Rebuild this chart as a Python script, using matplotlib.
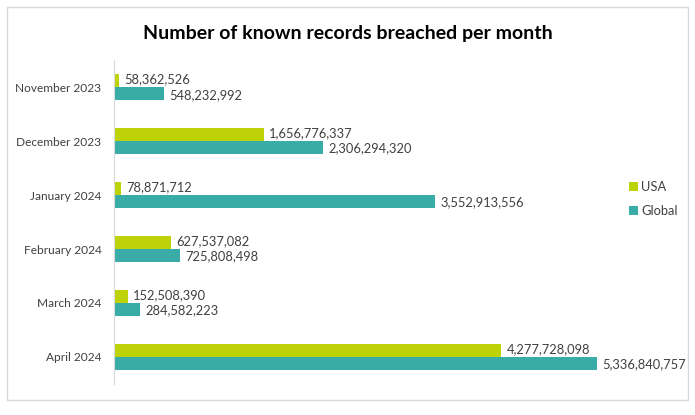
import matplotlib.pyplot as plt
from matplotlib.patches import Rectangle
import numpy as np

plt.rcParams['font.family'] = ['Lato', 'DejaVu Sans']

# data
months = ["November 2023", "December 2023", "January 2024",
          "February 2024", "March 2024", "April 2024"]
usa = [58362526, 1656776337, 78871712, 627537082, 152508390, 4277728098]
global_vals = [548232992, 2306294320, 3552913556, 725808498, 284582223, 5336840757]

usa_color = "#bdd308"
global_color = "#3aaca7"
text_color = "#404040"

fig = plt.figure(figsize=(6.95, 4.15), dpi=100)
ax = fig.add_axes([0.164, 0.075, 0.781, 0.78])

y = np.arange(len(months))
h = 0.24

b1 = ax.barh(y - h / 2, usa, height=h, color=usa_color, label="USA")
b2 = ax.barh(y + h / 2, global_vals, height=h, color=global_color, label="Global")

for bar, v in zip(b1, usa):
    ax.text(bar.get_width() + 6e7, bar.get_y() + bar.get_height() / 2 - 0.02,
            f"{v:,}", va="center", ha="left", fontsize=9.3, color=text_color)
for bar, v in zip(b2, global_vals):
    ax.text(bar.get_width() + 6e7, bar.get_y() + bar.get_height() / 2 + 0.02,
            f"{v:,}", va="center", ha="left", fontsize=9.3, color=text_color)

ax.set_yticks(y)
ax.set_yticklabels(months, fontsize=8.6, color=text_color)
ax.set_ylim(len(months) - 0.5, -0.5)
ax.set_xlim(0, 6e9)
ax.set_xticks([])
ax.tick_params(axis="y", length=0, pad=9)
for s in ["top", "right", "bottom"]:
    ax.spines[s].set_visible(False)
ax.spines["left"].set_color("#d9d9d9")

fig.text(0.5, 0.92, "Number of known records breached per month",
         ha="center", va="center", fontsize=14, fontweight="bold", color="black")

fig.legend(handles=[b1, b2], loc="center left", bbox_to_anchor=(0.888, 0.52),
           frameon=False, fontsize=9.3, handlelength=0.7, handleheight=0.7,
           handletextpad=0.25, labelspacing=0.9, labelcolor=text_color)

fig.patches.append(Rectangle((7 / 695, 15 / 415), 681 / 695, 393 / 415,
                             transform=fig.transFigure, fill=False,
                             edgecolor="#d9d9d9", linewidth=1))

fig.savefig("out.png", dpi=100)
